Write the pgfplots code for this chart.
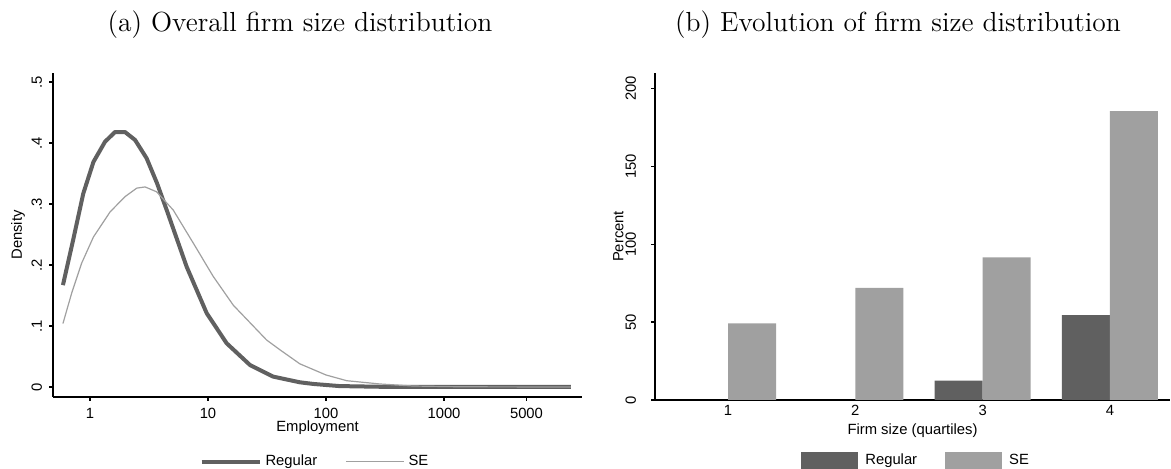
\documentclass[border=0pt]{standalone}
\usepackage{fontspec}
\usepackage{pgfplots}
\pgfplotsset{compat=1.18}
\newfontfamily\arial{Liberation Sans}
\definecolor{regc}{RGB}{96,96,96}
\definecolor{sec}{RGB}{160,160,160}
\begin{document}
\begin{tikzpicture}
\useasboundingbox (0,0) rectangle (585.5pt,234.5pt);
\pgfplotsset{
  stata/.style={
    scale only axis,
    axis x line*=bottom, axis y line*=left,
    axis line style={line width=0.6pt,black,-},
    tick style={line width=0.6pt,black},
    tick align=outside,
    major tick length=2pt,
    /pgf/number format/assume math mode=true,
    ticklabel style={font=\arial\fontsize{7.4}{9}\selectfont},
    legend style={font=\arial\fontsize{7.4}{9}\selectfont, draw=none, fill=none, inner sep=0pt,
      /tikz/every even column/.append style={column sep=12pt}},
    legend columns=2,
    legend cell align=left,
  }
}
\node[font=\fontsize{13.8}{16}\selectfont] at (150pt,222pt) {(a) Overall firm size distribution};
\node[font=\fontsize{13.8}{16}\selectfont] at (449pt,222pt) {(b) Evolution of firm size distribution};
\begin{axis}[stata,
  at={(26.5pt,36pt)}, anchor=south west,
  width=264.5pt, height=162pt,
  xmode=log, xmin=0.486, xmax=14770,
  ymin=-0.0164, ymax=0.5148,
  xtick={1,10,100,1000,5000}, xticklabels={1,10,100,1000,5000},
  ytick={0,0.1,0.2,0.3,0.4,0.5}, yticklabels={0,.1,.2,.3,.4,.5},
  yticklabel style={xshift=0pt, rotate=90, anchor=south},
  xlabel={Employment}, ylabel={Density},
  every axis x label/.style={at={(axis description cs:0.5,0)}, anchor=center, yshift=-15.5pt, font=\arial\fontsize{7.4}{9}\selectfont},
  every axis y label/.style={at={(axis description cs:-0.0662,0.5)}, rotate=90, anchor=center, font=\arial\fontsize{7.4}{9}\selectfont},
  legend style={at={(0.497,-0.1997)}, anchor=center},
  legend image code/.code={\draw[#1] (0pt,0pt) -- (29pt,0pt);},
]
\addplot[regc, line width=2pt, line join=round] coordinates {
(0.59,0.167) (0.72,0.241) (0.877,0.317) (1.07,0.369) (1.34,0.402) (1.63,0.418)
(1.98,0.418) (2.41,0.405) (3.02,0.375) (3.7,0.334) (4.47,0.290) (6.6,0.197)
(9.75,0.121) (14.4,0.0716) (22.7,0.036) (35.7,0.017) (60,0.0077) (78,0.005)
(130,0.0015) (300,0.0003) (1000,0.0) (11900,0.0)};
\addlegendentry{Regular}
\addplot[sec, line width=0.6pt, line join=round] coordinates {
(0.59,0.104) (0.70,0.154) (0.85,0.203) (1.07,0.246) (1.48,0.287) (1.98,0.312)
(2.49,0.326) (2.93,0.328) (3.67,0.320) (5.08,0.290) (7.5,0.236) (11.1,0.181)
(16.4,0.134) (31.4,0.077) (40.7,0.061) (60,0.038) (100,0.0197) (150,0.0103)
(288,0.0049) (550,0.0016) (1450,0.0003) (11900,0.0)};
\addlegendentry{SE}
\end{axis}
\begin{axis}[stata,
  at={(327.5pt,34.5pt)}, anchor=south west,
  width=257.5pt, height=163.5pt,
  xmin=0.4266, xmax=4.472, ymin=0, ymax=209.8,
  xtick={1,2,3,4}, xticklabels={1,2,3,4},
  x tick style={draw=none},
  xticklabel style={yshift=3pt},
  ytick={0,50,100,150,200}, yticklabels={0,50,100,150,200},
  yticklabel style={xshift=-4pt, rotate=90, anchor=south},
  xlabel={Firm size (quartiles)}, ylabel={Percent},
  every axis x label/.style={at={(axis description cs:0.5,0)}, anchor=center, yshift=-15.5pt, font=\arial\fontsize{7.4}{9}\selectfont},
  every axis y label/.style={at={(axis description cs:-0.071,0.5)}, rotate=90, anchor=center, font=\arial\fontsize{7.4}{9}\selectfont},
  legend style={at={(0.509,-0.1865)}, anchor=center},
  ybar, bar width=0.377,
]
\addplot[fill=regc, draw=none, bar shift=-0.1885,
  legend image code/.code={\fill[regc] (0pt,-4.25pt) rectangle (28.5pt,4.25pt); \path (30pt,0pt);}] coordinates {(3,12.4) (4,54.5)};
\addlegendentry{Regular}
\addplot[fill=sec, draw=none, bar shift=0.1885,
  legend image code/.code={\fill[sec] (0pt,-4.25pt) rectangle (28.5pt,4.25pt); \path (30pt,0pt);}] coordinates {(1,49.2) (2,72.0) (3,91.5) (4,185.4)};
\addlegendentry{SE}
\end{axis}
\end{tikzpicture}
\end{document}
